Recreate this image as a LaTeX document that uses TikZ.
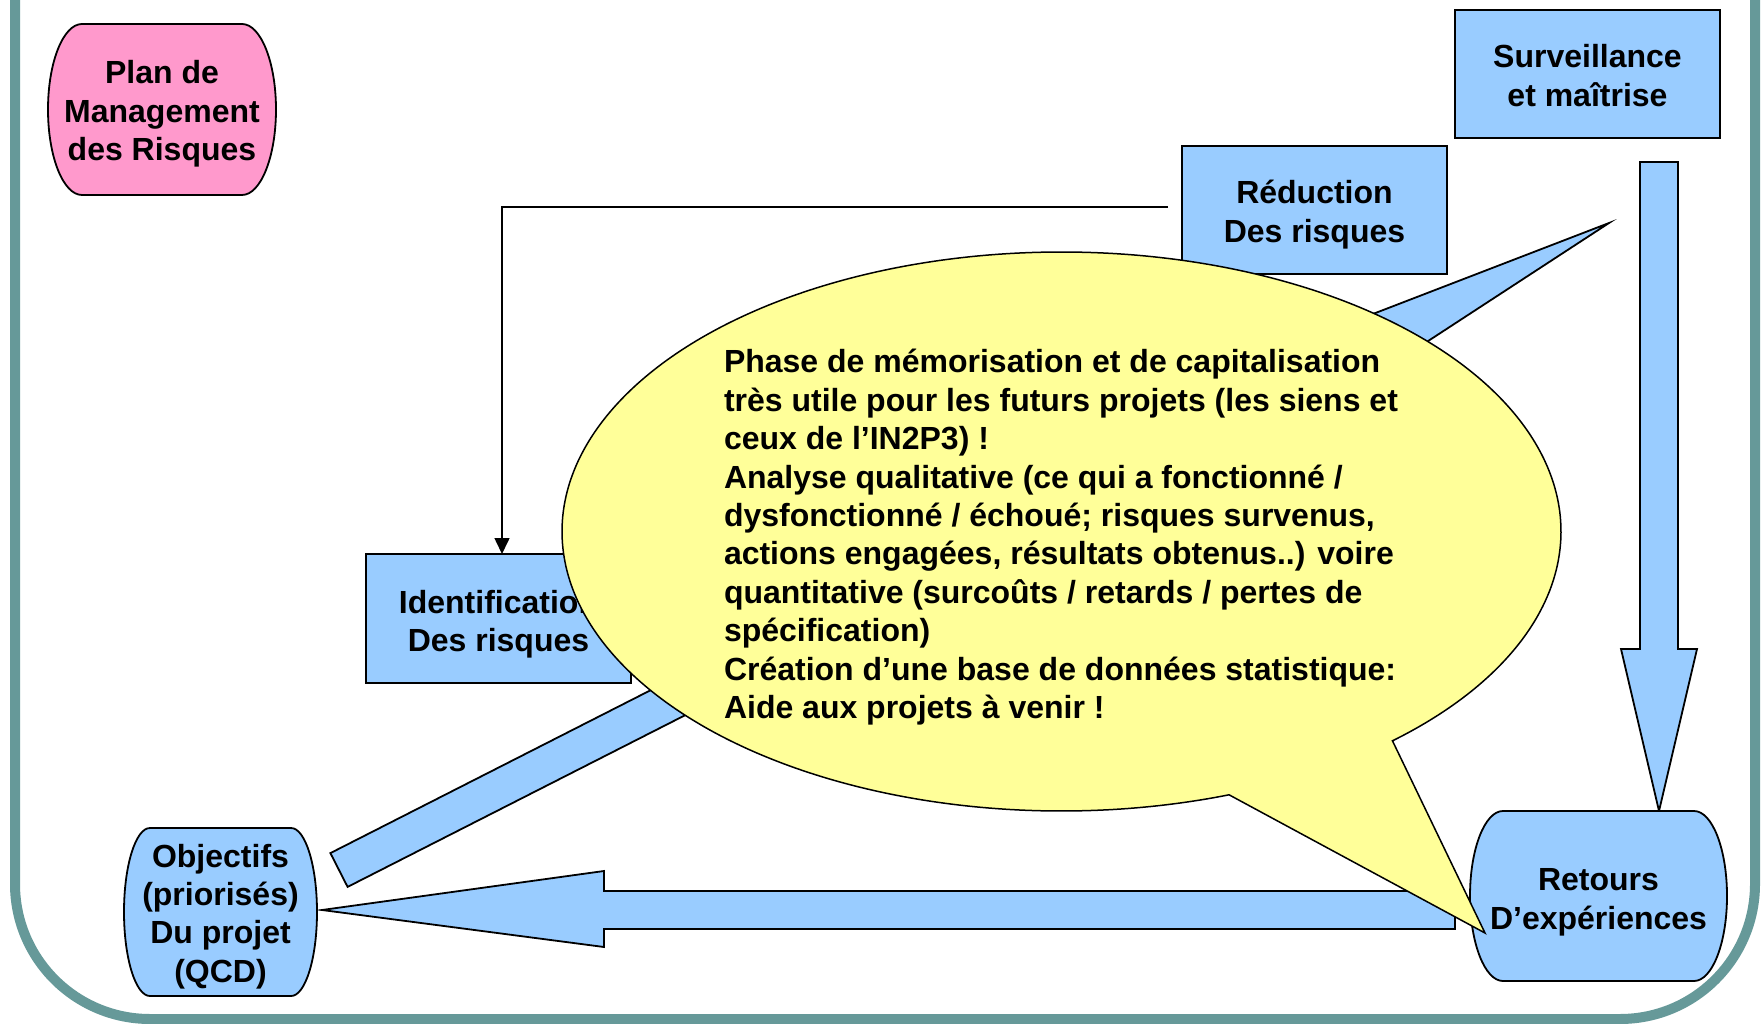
\documentclass[tikz,border=0pt]{standalone}
\usepackage{fontspec}
\setmainfont{Liberation Sans}
\usetikzlibrary{arrows.meta}
\definecolor{pinkfill}{HTML}{FF99CC}
\definecolor{bluefill}{HTML}{99CCFF}
\definecolor{yellowfill}{HTML}{FFFF99}
\definecolor{framecol}{HTML}{669999}
% barrel: fill, x0, y0, x1, y1, inset
\newcommand{\barrelshape}[6]{%
  \filldraw[fill=#1, draw=black, line width=1.8pt]
   ({#2+#6},#3) -- ({#4-#6},#3)
   .. controls ({#4-0.448*#6},#3) and (#4,{(#3+#5)/2-0.552*(#5-#3)/2}) .. (#4,{(#3+#5)/2})
   .. controls (#4,{(#3+#5)/2+0.552*(#5-#3)/2}) and ({#4-0.448*#6},#5) .. ({#4-#6},#5)
   -- ({#2+#6},#5)
   .. controls ({#2+0.448*#6},#5) and (#2,{(#3+#5)/2+0.552*(#5-#3)/2}) .. (#2,{(#3+#5)/2})
   .. controls (#2,{(#3+#5)/2-0.552*(#5-#3)/2}) and ({#2+0.448*#6},#3) .. cycle;}
\tikzset{
  every node/.style={font=\fontsize{32pt}{38.4pt}\selectfont\bfseries, inner sep=0pt, outer sep=0pt},
  box/.style={draw=black, fill=bluefill, line width=1.8pt, minimum width=265pt, minimum height=128pt, align=center},
  lbl/.style={align=center},
  blockarrow/.style={fill=bluefill, draw=black, line width=1.8pt, line join=miter},
  conn/.style={draw=black, line width=1.6pt, -{Triangle[length=16pt,width=15pt]}},
  bubble/.style={fill=yellowfill, draw=black, line width=1.5pt, line join=miter},
}
\begin{document}
\begin{tikzpicture}[x=1pt,y=-1pt]
\useasboundingbox (0,0) rectangle (1761,1024);
\fill[white] (0,0) rectangle (1761,1024);
\begin{scope}
  \clip (0,0) rectangle (1761,1024);
  \draw[framecol, line width=10pt, rounded corners=135pt] (15,-300) rectangle (1755,1019);
\end{scope}

% Plan de management
\barrelshape{pinkfill}{48}{24}{276}{195}{34}
\node[lbl] (plan) at (162,114) {Plan de\\Management\\des Risques};

% boxes
\node[box] (surv) at (1587.5,74) {};
\node[lbl] (survtxt) at (1587.5,75.5) {Surveillance\\et maîtrise};
\node[box] (red) at (1314.5,210) {};
\node[lbl] (redtxt) at (1314.5,214.5) {Réduction\\Des risques};
\node[box, minimum height=129pt] (ident) at (498.5,618.5) {};
\node[lbl] (identtxt) at (498.5,624) {Identification\\Des risques};

% connector Reduction -> Identification
\coordinate (c1) at (1168,207);
\draw[conn] (c1) -| ([xshift=3.5pt]ident.north);

% vertical block arrow Surveillance -> Retours
\path[blockarrow] (1640,162) -- (1678,162) -- (1678,649) -- (1697,649) -- (1659,811) -- (1621,649) -- (1640,649) -- cycle;

% diagonal block arrow Objectifs -> Surveillance
\path[blockarrow] (347.6,886.9) -- (330.4,853.1) -- (1279.7,370.2) -- (1271.1,353.2) -- (1609,223) -- (1305.5,421.0) -- (1296.9,404.0) -- cycle;

% horizontal block arrow Retours -> Objectifs
\path[blockarrow] (1455,891) -- (604,891) -- (604,871) -- (322,910) -- (604,947) -- (604,929) -- (1455,929) -- cycle;

% Objectifs and Retours
\barrelshape{bluefill}{124}{828}{317}{996}{26}
\node[lbl] (obj) at (220.5,916.5) {Objectifs\\(priorisés)\\Du projet\\(QCD)};
\barrelshape{bluefill}{1470}{811}{1727}{981}{33}
\node[lbl] (ret) at (1598.5,902.5) {Retours\\D’expériences};

% callout
\path[bubble] plot[variable=\t, domain=-289.6:48.5, samples=400] ({1061.5+499.5*cos(\t)},{531.5+279.5*sin(\t)}) -- (1485,933) -- cycle;
\node[anchor=north west, align=left] (note) at (724,349.5) {Phase de mémorisation et de capitalisation\\
très utile pour les futurs projets (les siens et\\
ceux de l’IN2P3) !\\
Analyse qualitative (ce qui a fonctionné /\\
dysfonctionné / échoué; risques survenus,\\
actions engagées, résultats obtenus..) voire\\
quantitative (surcoûts / retards / pertes de\\
spécification)\\
Création d’une base de données statistique:\\
Aide aux projets à venir !};
\end{tikzpicture}
\end{document}
